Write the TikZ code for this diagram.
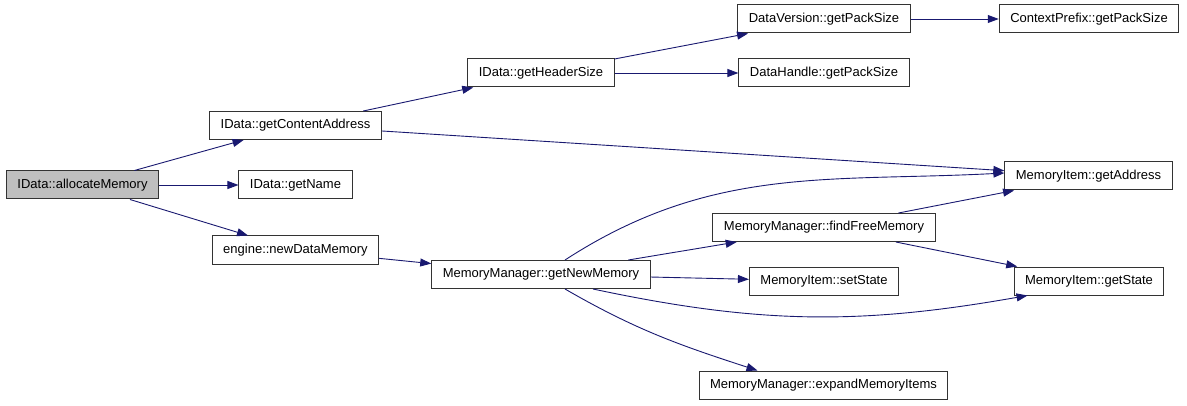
\documentclass[tikz,border=0pt]{standalone}
\usepackage{fontspec}
\setmainfont{Liberation Sans}
\usepackage{tikz}
\usetikzlibrary{arrows.meta, positioning}
\definecolor{edgeblue}{RGB}{25, 25, 112}
\definecolor{rootgray}{RGB}{191, 191, 191}

\begin{document}
\begin{tikzpicture}[
    x=1pt, y=1pt,
    func/.style={rectangle, draw=black!80, fill=white, line width=1pt, minimum height=28pt, inner xsep=11pt, inner ysep=0pt, font=\fontsize{13}{15}\selectfont},
    root/.style={func, fill=rootgray},
    call/.style={-{Triangle[length=11pt, width=8pt]}, line width=0.9pt, color=edgeblue}
]
    \useasboundingbox (0, 0) rectangle (1187, 405);

    \node[root] (alloc) at (82.5, 220) {IData::allocateMemory};
    \node[func] (content) at (295.5, 279.5) {IData::getContentAddress};
    \node[func] (name) at (295.5, 220) {IData::getName};
    \node[func] (newdata) at (295.5, 155) {engine::newDataMemory};
    \node[func] (header) at (541, 332) {IData::getHeaderSize};
    \node[func] (version) at (824, 386) {DataVersion::getPackSize};
    \node[func] (prefix) at (1089, 386) {ContextPrefix::getPackSize};
    \node[func] (handle) at (824, 332) {DataHandle::getPackSize};
    \node[func] (address) at (1088.5, 229) {MemoryItem::getAddress};
    \node[func] (findfree) at (824, 177.5) {MemoryManager::findFreeMemory};
    \node[func] (newmem) at (541, 130.5) {MemoryManager::getNewMemory};
    \node[func] (setstate) at (824, 124) {MemoryItem::setState};
    \node[func] (getstate) at (1089, 124) {MemoryItem::getState};
    \node[func] (expand) at (823.5, 20) {MemoryManager::expandMemoryItems};

    \draw[call] (alloc) -- (content);
    \draw[call] (alloc) -- (name);
    \draw[call] (alloc) -- (newdata);
    \draw[call] (content) -- (header);
    \draw[call] (content) -- (address);
    \draw[call] (header) -- (version);
    \draw[call] (header) -- (handle);
    \draw[call] (version) -- (prefix);
    \draw[call] (newdata) -- (newmem);
    \draw[call] ([xshift=24pt]newmem.north) to[out=33, in=183] ([yshift=3pt]address.west);
    \draw[call] (newmem) -- (findfree);
    \draw[call] (newmem) -- (setstate);
    \draw[call] ([xshift=52pt]newmem.south) to[out=-12, in=190] ([xshift=14pt]getstate.south west);
    \draw[call] ([xshift=24pt]newmem.south) to[out=-30, in=162] ([xshift=-66pt]expand.north);
    \draw[call] (findfree) -- (address);
    \draw[call] (findfree) -- (getstate);
\end{tikzpicture}
\end{document}
